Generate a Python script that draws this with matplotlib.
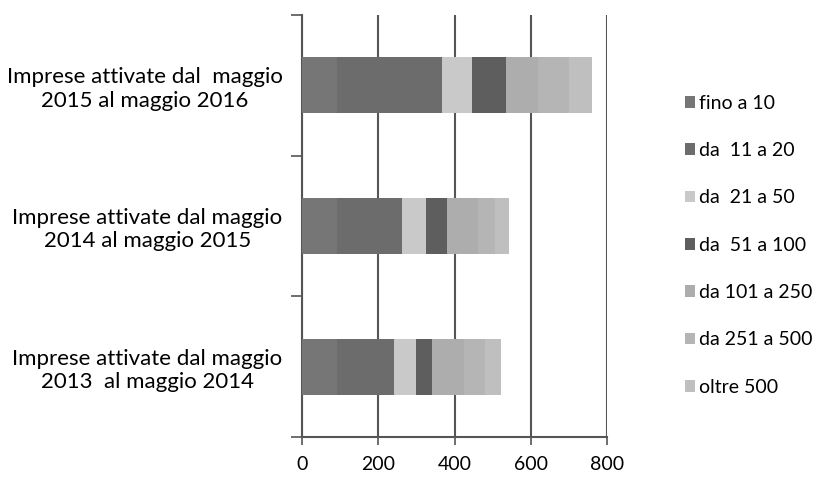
import matplotlib
matplotlib.use("Agg")
import matplotlib.pyplot as plt
import numpy as np

plt.rcParams['font.family'] = ['Lato', 'DejaVu Sans']

categories = ["Imprese attivate dal maggio\n2013  al maggio 2014",
              "Imprese attivate dal maggio\n2014 al maggio 2015",
              "Imprese attivate dal  maggio\n2015 al maggio 2016"]
series_names = ["fino a 10", "da  11 a 20", "da  21 a 50", "da  51 a 100",
                "da 101 a 250", "da 251 a 500", "oltre 500"]
fino_10 = [92, 92, 92]
da_11_20 = [149, 170, 275]
da_21_50 = [58, 63, 80]
da_51_100 = [42, 56, 88]
da_101_250 = [85, 80, 85]
da_251_500 = [55, 45, 80]
oltre_500 = [41, 37, 60]
series = [fino_10, da_11_20, da_21_50, da_51_100, da_101_250, da_251_500, oltre_500]
colors = ["#767676", "#6c6c6c", "#c9c9c9", "#5e5e5e", "#adadad", "#b5b5b5", "#bfbfbf"]
xticks = [0, 200, 400, 600, 800]

fig = plt.figure(figsize=(8.13, 4.78), dpi=100)
ax = fig.add_axes([302/813, 41/478, 305/813, 422/478])

y = np.arange(len(categories))
left = np.zeros(len(categories))
handles = []
for vals, c, name in zip(series, colors, series_names):
    h = ax.barh(y, vals, left=left, height=0.4, color=c, label=name, zorder=3)
    handles.append(h)
    left += np.array(vals)

ax.set_xlim(0, 800)
ax.set_ylim(-0.5, 2.5)
ax.set_xticks(xticks)
ax.set_xticklabels([str(v) for v in xticks], fontsize=14)
ax.xaxis.grid(True, color="#555555", linewidth=1.5, zorder=1)
ax.set_axisbelow(True)
ax.set_yticks([-0.5, 0.5, 1.5, 2.5])
ax.set_yticklabels([])
ax.set_yticks(y, minor=True)
ax.set_yticklabels(categories, minor=True, fontsize=16, ha='right', multialignment='center')
ax.tick_params(axis='y', which='minor', length=0, pad=14)
ax.tick_params(axis='y', which='major', length=8, width=1.2, color="#555555")
ax.tick_params(axis='x', length=6, width=1.2, color="#555555", pad=8)
for s in ['top', 'right']:
    ax.spines[s].set_visible(False)
for s in ['left', 'bottom']:
    ax.spines[s].set_color("#555555")
    ax.spines[s].set_linewidth(1.5)

leg = fig.legend(handles, series_names, loc='upper left', bbox_to_anchor=(677/813, 1 - 87/478),
                 frameon=False, fontsize=14, handlelength=0.55, handleheight=0.55,
                 handletextpad=0.2, labelspacing=1.56, borderaxespad=0)

fig.savefig("out.png", dpi=100)
